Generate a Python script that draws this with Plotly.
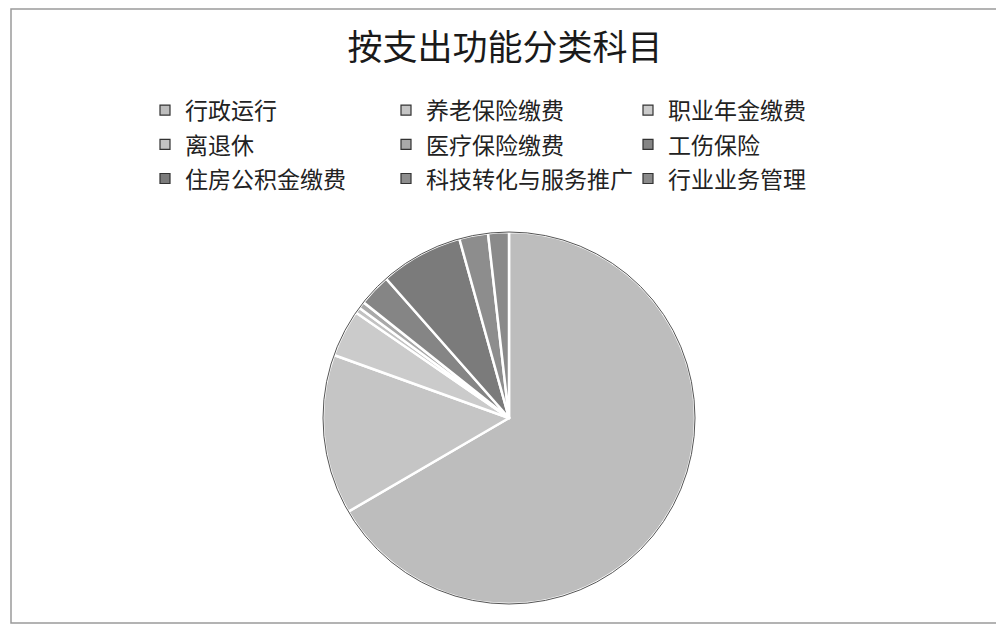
import plotly.graph_objects as go

title_text = "按支出功能分类科目"
categories = ["行政运行", "养老保险缴费", "职业年金缴费", "离退休", "医疗保险缴费",
              "工伤保险", "住房公积金缴费", "科技转化与服务推广", "行业业务管理"]
values = [66.6, 13.9, 4.1, 0.5, 0.6, 2.8, 7.2, 2.5, 1.8]
colors = ["#bdbdbd", "#c5c5c5", "#cbcbcb", "#c2c2c2", "#a9a9a9",
          "#858585", "#7b7b7b", "#8d8d8d", "#8a8a8a"]

# page body has an 8px margin; figure is sized to fit the window
OFF = 8
FW, FH = 996, 620


def px(x):
    return (x - OFF) / FW


def py(y):
    return (FH - (y - OFF)) / FH


cx, cy, r = 509, 418, 186

fig = go.Figure()
fig.add_trace(go.Pie(
    labels=categories,
    values=values,
    sort=False,
    direction="clockwise",
    rotation=0,
    textinfo="none",
    showlegend=False,
    hovertemplate="%{label}: %{value}<extra></extra>",
    marker=dict(colors=colors, line=dict(color="white", width=2.5)),
    domain=dict(x=[px(cx - r), px(cx + r)], y=[py(cy + r), py(cy - r)]),
))

# legend laid out as a 3x3 grid (row-major, like the original), one legend per column
legend_names = ["legend", "legend2", "legend3"]
for i, (name, col) in enumerate(zip(categories, colors)):
    fig.add_trace(go.Scatter(
        x=[None], y=[None], mode="markers", name=f"<span style='font-size:23px'>{name}</span>",
        marker=dict(symbol="square", size=10, color=col, line=dict(color="#333333", width=1.2)),
        legend=legend_names[i % 3], hoverinfo="skip", showlegend=True,
    ))

leg_common = dict(orientation="v", yanchor="top", y=py(88), xanchor="left",
                  itemwidth=30, tracegroupgap=0, traceorder="normal",
                  bgcolor="rgba(0,0,0,0)",
                  font=dict(size=24, color="#222222", family="Noto Sans CJK SC"))

fig.update_layout(
    width=FW, height=FH,
    margin=dict(l=0, r=0, t=0, b=0),
    paper_bgcolor="white",
    plot_bgcolor="white",
    font=dict(family="Noto Sans CJK SC", color="#222222"),
    title=dict(text=title_text, x=px(505), xanchor="center", y=py(48), yanchor="middle",
               font=dict(size=35, color="#1a1a1a", family="Noto Sans CJK SC")),
    xaxis=dict(visible=False),
    yaxis=dict(visible=False),
    legend=dict(x=px(145), **leg_common),
    legend2=dict(x=px(386), **leg_common),
    legend3=dict(x=px(628), **leg_common),
    shapes=[
        dict(type="rect", xref="paper", yref="paper",
             x0=px(11), x1=px(1000), y0=py(623), y1=py(9),
             line=dict(color="#9a9a9a", width=1.5), layer="below"),
        dict(type="circle", xref="paper", yref="paper",
             x0=px(cx - r), x1=px(cx + r), y0=py(cy + r), y1=py(cy - r),
             line=dict(color="#555555", width=1), layer="above"),
    ],
)

fig.write_html("out.html")
